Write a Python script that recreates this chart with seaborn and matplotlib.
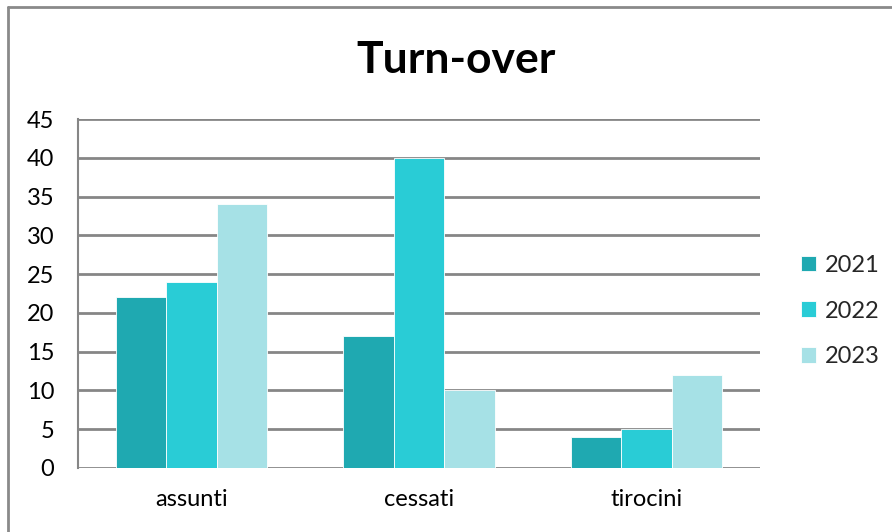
import matplotlib
matplotlib.use("Agg")
import matplotlib.pyplot as plt
from matplotlib.lines import Line2D
import seaborn as sns
import pandas as pd

categories = ["assunti", "cessati", "tirocini"]
years = ["2021", "2022", "2023"]
values_2021 = [22, 17, 4]
values_2022 = [24, 40, 5]
values_2023 = [34, 10, 12]
colors = ["#1fa9b1", "#29ccd6", "#a6e1e6"]
y_ticks = [0, 5, 10, 15, 20, 25, 30, 35, 40, 45]

df = pd.DataFrame({
    "categoria": categories * 3,
    "anno": [y for y in years for _ in categories],
    "valore": values_2021 + values_2022 + values_2023,
})

sns.set_theme(style="white")
plt.rcParams["font.family"] = ["Lato", "DejaVu Sans"]

W, H = 892, 532
fig = plt.figure(figsize=(W / 100, H / 100), dpi=100)
ax = fig.add_axes([78 / W, (H - 468) / H, (760 - 78) / W, (468 - 119) / H])

sns.barplot(data=df, x="categoria", y="valore", hue="anno", order=categories,
            hue_order=years, palette=colors, width=0.667, gap=0,
            saturation=1, edgecolor="white", linewidth=0.6, ax=ax, zorder=3)

ax.set_ylim(0, 45)
ax.set_xlim(-0.5, 2.5)
ax.set_yticks(y_ticks)
ax.yaxis.grid(True, color="#868686", linewidth=2, zorder=0)
ax.set_axisbelow(True)
for side in ["top", "right", "bottom"]:
    ax.spines[side].set_visible(False)
ax.spines["left"].set_color("#868686")
ax.spines["left"].set_linewidth(1.5)
ax.tick_params(axis="both", length=0, labelsize=17, colors="black")
ax.tick_params(axis="y", pad=17)
ax.tick_params(axis="x", pad=15)
ax.set_xlabel("")
ax.set_ylabel("")

fig.text(456 / W, 1 - 60 / H, "Turn-over", ha="center", va="center",
         fontsize=32, fontweight="bold", color="black")

handles, labels = ax.get_legend_handles_labels()
leg = ax.legend(handles, labels, loc="center left",
                bbox_to_anchor=(801 / W, 1 - 311 / H),
                bbox_transform=fig.transFigure, frameon=False,
                fontsize=17, handlelength=0.65, handleheight=0.65,
                handletextpad=0.35, labelspacing=1.05, borderaxespad=0,
                borderpad=0)

# outer chart border (top and left edges)
fig.add_artist(Line2D([8 / W, 1], [1 - 7 / H, 1 - 7 / H], color="#8a8a8a",
                      linewidth=2, transform=fig.transFigure))
fig.add_artist(Line2D([8 / W, 8 / W], [0, 1 - 7 / H], color="#8a8a8a",
                      linewidth=2, transform=fig.transFigure))

fig.savefig("out.png", dpi=100)
